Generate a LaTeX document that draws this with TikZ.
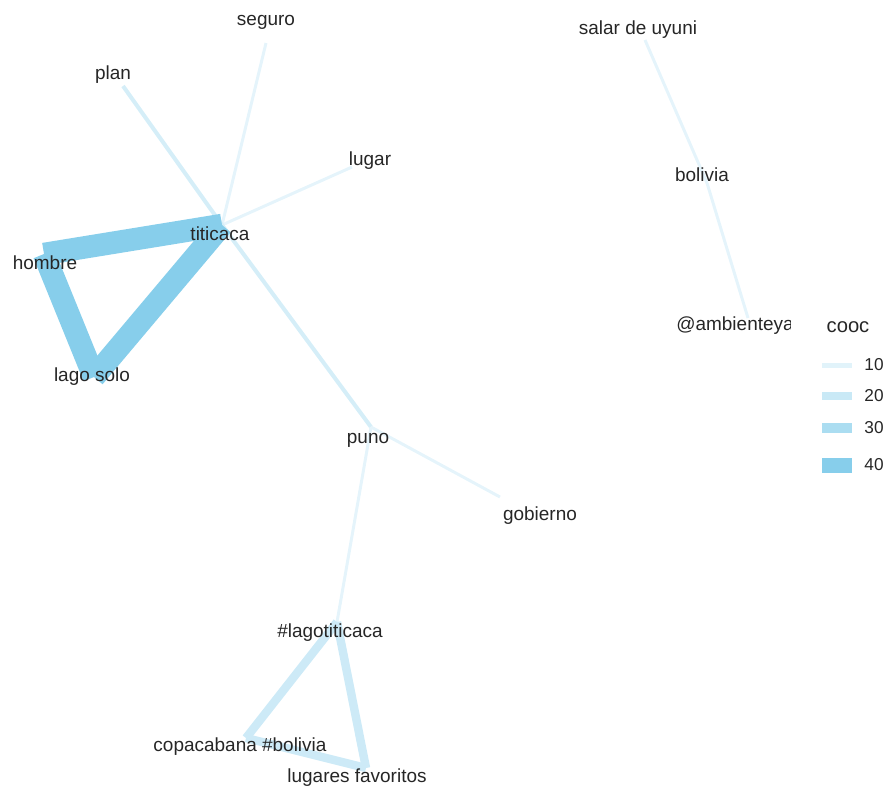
\documentclass[tikz,border=0pt]{standalone}
\usepackage{fontspec}
\setmainfont{Liberation Sans}
\definecolor{cooc}{RGB}{135,206,235}
\begin{document}
\begin{tikzpicture}[x=0.02cm,y=-0.02cm,
    word/.style={inner sep=0pt,text=black!85,font=\fontsize{10.8}{12}\selectfont},
    c10/.style={draw=cooc!22,line width=1.7pt},
    c15/.style={draw=cooc!35,line width=2.3pt},
    c20/.style={draw=cooc!42,line width=4.8pt},
    c40/.style={draw=cooc,line width=12.8pt}]
  \useasboundingbox (0,0) rectangle (888,789);

  \begin{scope}
    \clip (0,0) rectangle (790,789);
    % vertices
    \coordinate (titicaca) at (222,225);
    \coordinate (hombre) at (44,254);
    \coordinate (lagosolo) at (94,377);
    \coordinate (plan) at (123,86);
    \coordinate (seguro) at (266,43);
    \coordinate (lugar) at (352,167);
    \coordinate (puno) at (371,427);
    \coordinate (gobierno) at (500,497);
    \coordinate (lagotiticaca) at (337,622);
    \coordinate (copacabana) at (246,738);
    \coordinate (lugares) at (366,768);
    \coordinate (salar) at (645,40);
    \coordinate (bolivia) at (707,183);
    \coordinate (ambienteya) at (748,318);

    % edges
    \draw[c10] (titicaca) -- (seguro);
    \draw[c10] (titicaca) -- (lugar);
    \draw[c15] (titicaca) -- (plan);
    \draw[c15] (titicaca) -- (puno);
    \draw[c10] (puno) -- (gobierno);
    \draw[c10] (puno) -- (lagotiticaca);
    \draw[c20] (lagotiticaca) -- (copacabana);
    \draw[c20] (lagotiticaca) -- (lugares);
    \draw[c20] (copacabana) -- (lugares);
    \draw[c10] (salar) -- (bolivia);
    \draw[c10] (bolivia) -- (ambienteya);
    \draw[c40] (titicaca) -- (hombre);
    \draw[c40] (hombre) -- (lagosolo);
    \draw[c40] (lagosolo) -- (titicaca);

    % labels
    \node[word] (tseguro) at (266,22) {seguro};
    \node[word] (tplan) at (113,75) {plan};
    \node[word] (tlugar) at (370,161) {lugar};
    \node[word] (ttiticaca) at (220,234) {titicaca};
    \node[word] (thombre) at (45,263) {hombre};
    \node[word] (tlagosolo) at (92,377) {lago solo};
    \node[word] (tpuno) at (368,440) {puno};
    \node[word] (tgobierno) at (540,516) {gobierno};
    \node[word] (tlagotiticaca) at (330,633) {\#lagotiticaca};
    \node[word] (tcopacabana) at (240,747) {copacabana \#bolivia};
    \node[word] (tlugares) at (357,778) {lugares favoritos};
    \node[word] (tsalar) at (638,30) {salar de uyuni};
    \node[word] (tbolivia) at (702,175) {bolivia};
    \node[word] (tambienteya) at (735,326) {@ambienteya};
  \end{scope}

  % legend
  \node[inner sep=0pt,text=black!85,font=\fontsize{11.5}{13}\selectfont] (legtitle) at (848,327) {cooc};
  \foreach \v/\y/\h/\c in {10/365/5/25, 20/396/8/45, 30/428/10/70, 40/465/15/100}{
    \fill[cooc!\c] (822,\y-\h/2) rectangle (852,\y+\h/2);
    \node[inner sep=0pt,text=black!85,font=\fontsize{9.8}{11}\selectfont] (key\v) at (874,\y) {\v};
  }
\end{tikzpicture}
\end{document}
